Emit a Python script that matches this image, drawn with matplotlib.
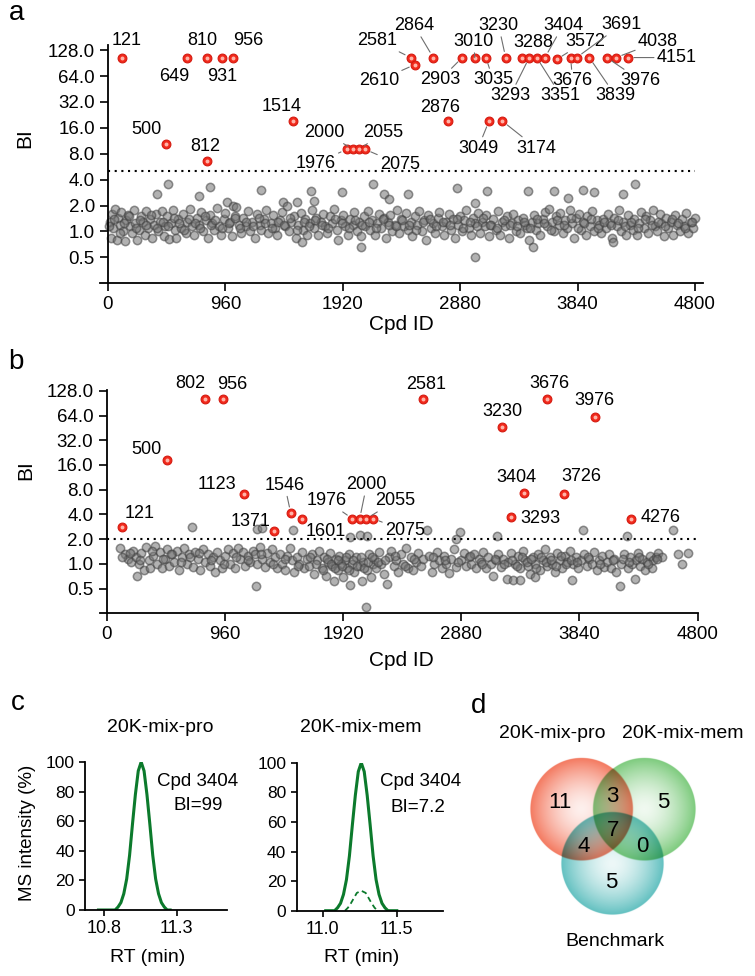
import numpy as np
import matplotlib.pyplot as plt
from matplotlib.colors import to_rgb
from matplotlib.ticker import NullLocator

plt.rcParams['font.family'] = ['Liberation Sans', 'DejaVu Sans']
plt.rcParams['axes.linewidth'] = 1.3

W, H = 755, 976

# ---------------- panel a data ----------------
a_labels = ['121', '500', '649', '810', '812', '931', '956', '1514',
            '1976', '2000', '2055', '2075',
            '2581', '2610', '2864', '2876', '2903',
            '3010', '3035', '3049', '3174',
            '3230', '3288', '3293', '3351', '3404',
            '3572', '3676', '3691', '3839', '3976', '4038', '4151']
a_pos = [117, 472, 648, 807, 807, 930, 1025, 1510,
         1952, 2006, 2055, 2102,
         2475, 2510, 2660, 2778, 2897,
         2999, 3091, 3116, 3225,
         3252, 3388, 3445, 3506, 3573,
         3669, 3783, 3832, 3936, 4078, 4154, 4250]
a_bi = [105, 10.5, 105, 105, 6.6, 105, 105, 19.2,
        9, 9, 9, 9,
        105, 87, 105, 19.2, 105,
        105, 105, 19.2, 19.2,
        105, 105, 105, 105, 105,
        100, 105, 105, 105, 105, 105, 105]
a_cut = 5.0
a_gray = [
    (15, 1.3), (25, 0.85), (35, 1.6), (45, 1.1), (60, 1.85), (70, 0.8), (85, 1.45), (95, 1.2),
    (110, 1.7), (125, 1.0), (140, 0.78), (150, 1.35), (165, 1.55), (180, 1.15), (195, 0.95),
    (210, 1.8), (225, 1.25), (240, 0.8), (255, 1.05), (270, 1.5), (285, 1.3), (300, 0.9),
    (315, 1.75), (330, 1.1), (345, 1.4), (360, 0.85), (375, 1.2), (390, 1.6), (410, 1.0),
    (425, 1.3), (440, 1.75), (455, 0.88), (470, 1.15), (485, 1.5), (500, 0.82), (515, 1.25),
    (530, 1.8), (545, 1.05), (560, 0.85), (575, 1.4), (595, 1.1), (615, 1.6), (635, 0.95),
    (650, 1.3), (670, 1.85), (690, 1.15), (705, 0.9), (725, 1.45), (745, 1.2), (760, 1.7),
    (780, 1.0), (800, 1.35), (815, 0.85), (835, 1.55), (850, 1.25), (870, 1.05), (890, 1.9),
    (905, 1.15), (925, 0.92), (945, 1.4), (960, 1.65), (971, 2.2), (980, 1.1), (1000, 1.3),
    (1015, 0.88), (1024, 2.0), (1035, 1.5), (1050, 1.95), (1070, 1.2), (1090, 0.95),
    (1105, 1.45), (1125, 1.15), (1145, 1.75), (1160, 1.0), (1180, 1.3), (1200, 0.85),
    (1220, 1.6), (1240, 1.2), (1255, 1.05), (1275, 1.4), (1295, 1.8), (1310, 0.95),
    (1330, 1.25), (1350, 1.55), (1370, 1.1), (1385, 0.9), (1405, 1.35), (1425, 1.7),
    (1431, 2.2), (1445, 1.15), (1460, 2.0), (1480, 1.0), (1500, 1.3), (1520, 1.5),
    (1535, 0.85), (1543, 2.2), (1555, 1.2), (1575, 1.65), (1595, 1.05), (1610, 1.4),
    (1630, 0.92), (1650, 1.25), (1665, 1.8), (1685, 1.1), (1705, 1.45), (1720, 0.9),
    (1740, 1.3), (1760, 1.6), (1775, 1.15), (1795, 0.95), (1815, 1.5), (1830, 1.25),
    (1850, 1.85), (1870, 1.05), (1885, 0.8), (1905, 1.35), (1925, 1.55), (1940, 1.15),
    (1960, 0.9), (1980, 1.4), (2000, 1.2), (2015, 1.7), (2035, 1.0), (2050, 1.3),
    (2070, 0.88), (2090, 1.5), (2105, 1.15), (2125, 1.75), (2145, 1.05), (2160, 1.35),
    (2180, 0.92), (2200, 1.25), (2215, 1.6), (2235, 1.1), (2255, 1.45), (2270, 0.85),
    (2290, 1.3), (2310, 1.55), (2325, 1.0), (2345, 1.2), (2365, 1.8), (2380, 0.95),
    (2400, 1.4), (2420, 1.15), (2435, 1.65), (2455, 1.05), (2475, 1.3), (2490, 0.88),
    (2510, 1.5), (2530, 1.2), (2545, 1.75), (2565, 1.0), (2585, 1.35), (2600, 0.8),
    (2620, 1.55), (2640, 1.1), (2655, 1.25), (2675, 0.95), (2695, 1.45), (2710, 1.7),
    (2730, 1.15), (2750, 0.9), (2765, 1.3), (2785, 1.6), (2805, 1.05), (2820, 1.4),
    (2840, 0.85), (2860, 1.2), (2875, 1.5), (2895, 1.0), (2915, 1.35), (2930, 1.8),
    (2950, 1.1), (2970, 0.92), (2985, 1.45), (3005, 1.25), (3025, 1.65), (3040, 0.95),
    (3060, 1.3), (3080, 1.15), (3095, 1.55), (3115, 0.88), (3135, 1.2), (3150, 1.4),
    (3170, 1.05), (3190, 1.75), (3205, 0.9), (3225, 1.3), (3245, 1.15), (3260, 1.5),
    (3280, 0.85), (3300, 1.25), (3315, 1.6), (3335, 1.0), (3355, 1.35), (3370, 0.95),
    (3390, 1.45), (3410, 1.2), (3425, 1.1), (3445, 0.8), (3465, 1.3), (3480, 1.55),
    (3500, 1.05), (3520, 1.25), (3535, 0.92), (3555, 1.4), (3575, 1.7), (3590, 1.15),
    (3610, 1.85), (3630, 1.3), (3645, 1.0), (3665, 1.5), (3685, 1.2), (3700, 1.65),
    (3720, 0.95), (3740, 1.35), (3755, 1.1), (3775, 1.8), (3795, 1.25), (3810, 0.85),
    (3830, 1.45), (3850, 1.6), (3865, 1.05), (3885, 1.3), (3905, 0.9), (3920, 1.5),
    (3940, 1.15), (3960, 1.75), (3975, 1.0), (3995, 1.35), (4015, 1.2), (4030, 0.95),
    (4050, 1.4), (4070, 1.1), (4085, 1.6), (4105, 1.25), (4125, 0.85), (4140, 1.45),
    (4160, 1.15), (4180, 1.8), (4195, 1.0), (4215, 1.3), (4235, 0.9), (4250, 1.55),
    (4270, 1.2), (4290, 1.05), (4305, 1.4), (4325, 0.92), (4345, 1.25), (4360, 1.7),
    (4380, 1.1), (4400, 1.5), (4415, 0.95), (4435, 1.35), (4455, 1.8), (4470, 1.15),
    (4490, 1.0), (4510, 1.6), (4525, 1.25), (4545, 0.88), (4565, 1.45), (4580, 1.1),
    (4600, 1.3), (4620, 0.92), (4635, 1.55), (4655, 1.2), (4675, 1.0), (4690, 1.4),
    (4710, 1.15), (4730, 1.65), (4745, 0.95), (4765, 1.3), (4785, 1.1), (4800, 1.45),
    # dense core
    (8, 1.15), (52, 1.4), (100, 0.95), (135, 1.25), (172, 1.5), (232, 1.1), (262, 1.35),
    (308, 1.2), (352, 1.55), (398, 1.1), (448, 1.3), (492, 1.15), (538, 1.45), (585, 1.25),
    (622, 1.05), (660, 1.4), (712, 1.25), (752, 1.1), (792, 1.5), (842, 1.2), (878, 1.35),
    (932, 1.1), (990, 1.25), (1042, 1.45), (1082, 1.1), (1132, 1.3), (1190, 1.15),
    (1232, 1.45), (1282, 1.25), (1340, 1.1), (1392, 1.3), (1438, 1.2), (1490, 1.45),
    (1545, 1.05), (1600, 1.3), (1640, 1.15), (1692, 1.35), (1748, 1.2), (1802, 1.1),
    (1858, 1.4), (1912, 1.25), (1968, 1.1), (2022, 1.35), (2080, 1.2), (2132, 1.3),
    (2190, 1.1), (2245, 1.4), (2300, 1.2), (2352, 1.15), (2408, 1.35), (2462, 1.2),
    (2520, 1.05), (2575, 1.3), (2630, 1.4), (2685, 1.15), (2740, 1.3), (2795, 1.2),
    (2850, 1.4), (2905, 1.1), (2960, 1.3), (3015, 1.15), (3070, 1.45), (3125, 1.2),
    (3180, 1.1), (3235, 1.35), (3290, 1.2), (3345, 1.15), (3400, 1.3), (3455, 1.1),
    (3510, 1.4), (3565, 1.25), (3620, 1.05), (3675, 1.35), (3730, 1.2), (3785, 1.45),
    (3840, 1.1), (3895, 1.25), (3950, 1.4), (4005, 1.1), (4060, 1.3), (4115, 1.2),
    (4170, 1.35), (4225, 1.15), (4280, 1.3), (4335, 1.1), (4390, 1.4), (4445, 1.2),
    (4500, 1.3), (4555, 1.15), (4610, 1.4), (4665, 1.25), (4720, 1.1), (4775, 1.3),
    # outliers
    (403, 2.72), (492, 3.57), (746, 2.58), (832, 3.27), (1254, 3.07), (1660, 2.94),
    (1682, 2.26), (1911, 2.84), (2168, 3.57), (2260, 2.72), (2301, 2.38), (2450, 2.72),
    (2857, 3.21), (3101, 2.94), (2999, 2.12), (3434, 2.92), (3650, 2.96), (3761, 2.47),
    (3888, 3.02), (3974, 2.89), (4215, 2.74), (4310, 3.57), (2069, 0.66), (3005, 0.51),
    (3475, 0.66), (1587, 0.755), (4126, 0.755),
]

# ---------------- panel b data ----------------
b_labels = ['121', '500', '802', '956', '1123', '1371', '1546', '1601',
            '1976', '2000', '2055', '2075', '2581', '3230', '3293', '3404',
            '3676', '3726', '3976', '4276']
b_pos = [124, 493, 799, 948, 1113, 1359, 1495, 1590,
         1996, 2055, 2110, 2163, 2570, 3214, 3282, 3390,
         3574, 3712, 3964, 4257]
b_bi = [2.85, 18.3, 101, 101, 7.1, 2.5, 4.15, 3.55,
        3.55, 3.55, 3.55, 3.55, 101, 46, 3.7, 7.2,
        101, 7.1, 61, 3.55]
b_cut = 2.0
b_gray = [
    (110, 1.55), (150, 1.3), (175, 1.15), (200, 1.05), (215, 1.45), (244, 0.72), (240, 1.2),
    (260, 1.0), (280, 1.35), (300, 0.85), (320, 1.6), (340, 1.1), (355, 0.9), (375, 1.25),
    (395, 1.65), (410, 1.0), (430, 1.4), (450, 0.88), (470, 1.15), (490, 1.5), (510, 0.95),
    (530, 1.3), (550, 1.05), (570, 1.45), (590, 0.85), (610, 1.2), (630, 1.55), (650, 1.0),
    (690, 2.8), (670, 1.3), (700, 0.92), (720, 1.4), (740, 1.15), (760, 0.85), (780, 1.5),
    (800, 1.05), (820, 1.3), (840, 0.95), (860, 1.2), (880, 0.8), (900, 1.4), (920, 1.1),
    (940, 0.88), (960, 1.25), (985, 1.5), (1005, 1.0), (1025, 1.35), (1045, 0.9),
    (1065, 1.55), (1085, 1.15), (1105, 1.4), (1125, 0.95), (1145, 1.25), (1165, 1.05),
    (1185, 1.45), (1213, 0.54), (1218, 2.67), (1259, 2.7), (1205, 1.3), (1225, 1.0),
    (1245, 1.6), (1265, 1.15), (1285, 0.92), (1305, 1.35), (1325, 1.05), (1345, 1.5),
    (1365, 1.2), (1385, 0.9), (1405, 1.3), (1425, 1.0), (1445, 0.85), (1465, 1.25),
    (1485, 1.55), (1505, 1.1), (1516, 2.55), (1525, 0.8), (1545, 1.2), (1565, 1.0),
    (1585, 1.4), (1605, 0.88), (1625, 1.15), (1645, 0.95), (1665, 1.3), (1685, 0.75),
    (1705, 1.1), (1725, 1.45), (1745, 0.9), (1765, 1.2), (1785, 0.72), (1800, 1.05),
    (1815, 1.35), (1830, 0.95), (1845, 0.62), (1860, 1.15), (1875, 0.85), (1890, 1.25),
    (1905, 1.0), (1920, 0.7), (1935, 1.1), (1950, 0.9), (1965, 1.3), (1980, 0.55),
    (1976, 2.1), (1995, 1.0), (2010, 0.8), (2025, 1.2), (2058, 2.25), (2055, 0.95),
    (2070, 0.62), (2085, 1.05), (2112, 2.2), (2109, 0.3), (2115, 0.85), (2130, 1.3),
    (2145, 0.7), (2160, 1.0), (2175, 1.15), (2190, 0.9), (2210, 1.4), (2230, 1.0),
    (2250, 0.75), (2274, 0.57), (2290, 1.2), (2310, 1.45), (2330, 0.95), (2350, 1.1),
    (2370, 0.8), (2390, 1.3), (2410, 1.0), (2430, 1.55), (2450, 0.9), (2470, 1.2),
    (2490, 0.85), (2510, 1.05), (2530, 1.35), (2550, 0.95), (2570, 1.15), (2600, 2.55),
    (2620, 1.25), (2640, 0.8), (2660, 1.0), (2680, 1.4), (2700, 1.1), (2720, 0.9),
    (2740, 1.25), (2760, 1.0), (2780, 0.78), (2800, 1.15), (2820, 1.5), (2840, 0.92),
    (2870, 2.43), (2838, 2.0), (2880, 1.1), (2900, 1.35), (2920, 0.95), (2940, 1.2),
    (2960, 1.0), (2980, 1.3), (3000, 0.88), (3020, 1.15), (3040, 1.05), (3060, 1.4),
    (3080, 0.9), (3100, 1.2), (3120, 1.0), (3140, 0.72), (3168, 2.2), (3160, 1.1),
    (3180, 1.3), (3200, 0.92), (3220, 1.15), (3249, 0.66), (3260, 1.05), (3280, 1.35),
    (3303, 0.63), (3320, 1.0), (3340, 1.25), (3357, 0.63), (3360, 0.9), (3380, 1.45),
    (3400, 1.1), (3420, 0.95), (3440, 0.75), (3460, 1.2), (3479, 0.69), (3480, 1.0),
    (3500, 1.3), (3520, 0.85), (3540, 1.1), (3560, 1.5), (3580, 0.95), (3600, 1.2),
    (3620, 1.0), (3640, 0.8), (3660, 1.35), (3680, 1.1), (3700, 0.9), (3720, 1.25),
    (3740, 1.05), (3760, 1.45), (3777, 0.63), (3790, 1.0), (3810, 1.2), (3830, 0.88),
    (3850, 1.1), (3872, 2.55), (3880, 1.3), (3900, 0.95), (3920, 1.15), (3940, 1.0),
    (3960, 1.4), (3980, 0.85), (4000, 1.1), (4020, 1.25), (4040, 0.92), (4060, 1.05),
    (4080, 1.3), (4100, 0.9), (4120, 1.15), (4140, 0.8), (4170, 0.54), (4180, 1.0),
    (4200, 1.3), (4224, 2.2), (4235, 0.9), (4250, 1.2), (4265, 1.0), (4291, 0.66),
    (4300, 1.1), (4315, 1.35), (4330, 0.95), (4350, 1.15), (4370, 0.85), (4390, 1.05),
    (4410, 1.25), (4430, 0.9), (4441, 1.1), (4460, 1.2), (4480, 1.35), (4509, 1.2),
    (4603, 2.6), (4643, 1.3), (4671, 1.0), (4725, 1.35),
    # dense core
    (125, 1.2), (190, 1.35), (270, 1.1), (365, 1.45), (460, 1.15), (520, 1.3), (600, 1.05),
    (680, 1.2), (750, 1.35), (850, 1.1), (950, 1.0), (1050, 1.2), (1150, 1.1), (1250, 1.3),
    (1350, 1.0), (1450, 1.15), (1550, 0.95), (1650, 1.2), (1700, 1.0), (1755, 0.85),
    (1790, 1.15), (1822, 1.0), (1852, 0.9), (1882, 1.1), (1912, 0.95), (1942, 1.2),
    (1972, 0.85), (2002, 1.1), (2032, 0.95), (2062, 1.2), (2092, 0.9), (2122, 1.05),
    (2152, 1.2), (2200, 1.05), (2260, 1.1), (2340, 1.25), (2420, 0.95), (2500, 1.15),
    (2650, 1.2), (2750, 1.1), (2850, 1.05), (2950, 1.25), (3050, 1.0), (3150, 1.15),
    (3230, 1.0), (3290, 1.1), (3330, 0.95), (3370, 1.2), (3410, 1.05), (3450, 1.15),
    (3490, 0.9), (3530, 1.2), (3570, 1.05), (3610, 1.1), (3650, 0.95), (3690, 1.25),
    (3730, 1.0), (3770, 1.1), (3820, 1.05), (3910, 1.2), (4010, 1.0), (4110, 1.1),
    (4190, 1.15), (4245, 1.05), (4320, 1.2), (4400, 1.0), (4470, 1.15),
]

# ---------------- panel c data ----------------
rt_pro = [10.76, 10.875, 10.895, 10.915, 10.935, 10.955, 10.975, 10.995, 11.015, 11.035,
          11.055, 11.075, 11.095, 11.115, 11.135, 11.155, 11.175, 11.195, 11.215, 11.235, 11.255]
int_pro = [0, 0, 2, 5, 11, 21, 37, 58, 78, 94, 100, 94, 78, 58, 37, 21, 11, 5, 2, 0, 0]
rt_mem = [11.02, 11.08, 11.10, 11.12, 11.14, 11.16, 11.18, 11.20, 11.22, 11.24,
          11.26, 11.28, 11.30, 11.32, 11.34, 11.36, 11.38, 11.40, 11.42, 11.44, 11.50]
int_mem = [0, 0, 2, 5, 11, 21, 37, 58, 78, 94, 100, 94, 78, 58, 37, 21, 11, 5, 2, 0, 0]
rt_bench = [11.15, 11.17, 11.19, 11.21, 11.23, 11.26, 11.29, 11.31, 11.33, 11.35, 11.37]
int_bench = [0, 2, 5, 8.5, 12, 13.5, 12, 8.5, 5, 2, 0]

# ---------------- panel d data ----------------
venn_sets = ['20K-mix-pro', '20K-mix-mem', 'Benchmark']
venn_counts = ['11', '3', '5', '7', '4', '0', '5']

# ---------------- style: label offsets (px, y down) ----------------
a_off = [(4, -17), (-19, -14), (-13, 19), (-4, -17), (-1, -14), (1, 19), (15, -17), (-11, -15),
         (-31, 14), (-29, -17), (24, -17), (35, 15),
         (-34, -17), (-36, 16), (-19, -32), (-8, -14), (-22, 22),
         (-1, -16), (7, 22), (-11, 27), (34, 27),
         (-7, -32), (11, -15), (-19, 38), (24, 38), (18, -32),
         (29, -18), (2, 23), (45, -33), (26, 38), (34, 23), (42, -16), (49, 0)]
a_lead = [0, 0, 0, 0, 0, 0, 0, 0, 1, 1, 1, 1, 1, 1, 1, 0, 1,
          1, 1, 1, 1, 1, 0, 1, 1, 1, 1, 1, 1, 1, 1, 1, 1]
b_off = [(18, -13), (-21, -11), (-15, -16), (9, -15), (-27, -9), (-23, -10), (-6, -28), (23, 13),
         (-26, -18), (7, -34), (29, -18), (32, 12), (3, -15), (0, -16), (30, 1), (-8, -16),
         (3, -16), (18, -17), (0, -17), (30, -1)]
b_lead = [0, 0, 0, 0, 0, 0, 1, 0, 1, 1, 1, 1, 0, 0, 0, 0, 0, 0, 0, 0]

fig = plt.figure(figsize=(W / 100, H / 100), dpi=100)


def add_ax(l, t, r, b):
    return fig.add_axes([l / W, 1 - b / H, (r - l) / W, (b - t) / H])


def ftext(x, y, s, **kw):
    kw.setdefault('ha', 'center')
    kw.setdefault('va', 'center')
    fig.text(x / W, 1 - y / H, s, **kw)


def bi_panel(ax, gray, pos, bi, labels, offs, leads, cut, xlim, ylim):
    gx, gy = zip(*gray)
    ax.scatter(gx, gy, s=36, facecolor=(0.45, 0.45, 0.45, 0.55),
               edgecolor=(0.25, 0.25, 0.25, 0.55), lw=1.1, zorder=2)
    ax.scatter(pos, bi, s=40, color='#f22a1c', edgecolor='#d41a10', lw=0.8, zorder=4)
    ax.scatter(pos, bi, s=8, color='#ffb4a8', lw=0, zorder=5)
    ax.plot([0, 4800], [cut, cut], color='k', lw=1.5, ls=(0, (1, 2.2)), zorder=3)
    for lab, x, y, (dx, dy), ld in zip(labels, pos, bi, offs, leads):
        kw = {}
        if ld:
            kw['arrowprops'] = dict(arrowstyle='-', color='#6e6e6e', lw=0.8,
                                    shrinkA=0, shrinkB=4.5)
        ax.annotate(lab, (x, y), xytext=(dx, -dy), textcoords='offset pixels',
                    ha='center', va='center', fontsize=13, zorder=6,
                    annotation_clip=False, **kw)
    ax.set_yscale('log', base=2)
    ax.set_xlim(*xlim)
    ax.set_ylim(*ylim)
    yt = [0.5, 1, 2, 4, 8, 16, 32, 64, 128]
    ax.set_yticks(yt)
    ax.set_yticklabels([f'{v:.1f}' for v in yt])
    ax.yaxis.set_minor_locator(NullLocator())
    ax.set_xticks([0, 960, 1920, 2880, 3840, 4800])
    ax.spines['left'].set_position(('data', 0))
    ax.spines['top'].set_visible(False)
    ax.spines['right'].set_visible(False)
    ax.tick_params(direction='out', length=5.5, width=1.2, labelsize=13.5, pad=4)


# panel a
axa = add_ax(100, 45.5, 703.3, 283.3)
bi_panel(axa, a_gray, a_pos, a_bi, a_labels, a_off, a_lead, a_cut, (-65, 4868), (0.25, 145))
ftext(401, 325, 'Cpd ID', fontsize=15)
ftext(25, 138, 'BI', fontsize=15, rotation=90)
ftext(17, 13, 'a', fontsize=20)

# panel b
axb = add_ax(100, 389.7, 698.3, 613.3)
bi_panel(axb, b_gray, b_pos, b_bi, b_labels, b_off, b_lead, b_cut, (-54, 4805), (0.25, 132))
ftext(401, 660, 'Cpd ID', fontsize=15)
ftext(26, 470, 'BI', fontsize=15, rotation=90)
ftext(16, 362, 'b', fontsize=20)

# panel c
green = '#0c7a2c'
axl = add_ax(85, 762, 227, 910)
axl.plot(rt_pro, int_pro, color=green, lw=2.2, solid_joinstyle='round')
axl.set_xlim(10.667, 11.648)
axl.set_xticks([10.8, 11.3])
axr = add_ax(296.7, 762.7, 442.7, 910.7)
axr.plot(rt_mem, int_mem, color=green, lw=2.2, solid_joinstyle='round')
axr.plot(rt_bench, int_bench, color=green, lw=1.3, ls=(0, (3, 2)))
axr.set_xlim(10.824, 11.81)
axr.set_xticks([11.0, 11.5])
for ax in (axl, axr):
    ax.set_ylim(0, 100)
    ax.set_yticks([0, 20, 40, 60, 80, 100])
    ax.spines['top'].set_visible(False)
    ax.spines['right'].set_visible(False)
    ax.tick_params(direction='out', length=4.5, width=1.2, labelsize=12.5, pad=3)
    for lab in ax.get_xticklabels():
        lab.set_fontsize(13)
ftext(160, 728, '20K-mix-pro', fontsize=14)
ftext(361, 728, '20K-mix-mem', fontsize=14)
ftext(198, 782, 'Cpd 3404', fontsize=13.5)
ftext(198, 806, 'BI=99', fontsize=13.5)
ftext(421, 782, 'Cpd 3404', fontsize=13.5)
ftext(418, 807, 'BI=7.2', fontsize=13.5)
ftext(148, 958, 'RT (min)', fontsize=14)
ftext(362, 958, 'RT (min)', fontsize=14)
ftext(28, 833, 'MS intensity (%)', fontsize=13.5, rotation=90)
ftext(18, 703, 'c', fontsize=20)

# panel d: Venn diagram in pixel-like coordinates
axd = add_ax(500, 720, 735, 955)
venn_centers = [(581.5, 809), (644.5, 809), (612.5, 863.5)]
venn_colors = ['#f2674a', '#6cc46c', '#4db8b8']
venn_r = 52
gx_ = np.linspace(500, 735, 706)
gy_ = np.linspace(720, 955, 706)
X, Y = np.meshgrid(gx_, gy_)
rgb = np.ones(X.shape + (3,))
inside = np.zeros(X.shape)
for (cx, cy), col in zip(venn_centers, venn_colors):
    d = np.hypot(X - cx, Y - cy) / venn_r
    edge = np.clip((1 - d) * venn_r, 0, 1)
    a = np.clip(0.1 + 0.8 * d ** 1.6, 0, 0.92) * edge
    c = np.array(to_rgb(col))
    rgb *= 1 - a[..., None] * (1 - c)
    inside = np.maximum(inside, edge)
axd.imshow(np.dstack([rgb, inside]), extent=(500, 735, 955, 720), origin='upper',
           interpolation='bilinear')
axd.set_xlim(500, 735)
axd.set_ylim(955, 720)
axd.axis('off')
count_xy = [(560, 802), (612, 796), (663, 802), (613, 830), (584, 847), (642, 847), (611, 883)]
for (x, y), s in zip(count_xy, venn_counts):
    axd.text(x, y, s, ha='center', va='center', fontsize=16)
for (x, y), s in zip([(552, 733), (683, 733), (615, 942)], venn_sets):
    axd.text(x, y, s, ha='center', va='center', fontsize=14)
ftext(479, 706, 'd', fontsize=20)

fig.savefig('out.png', dpi=100)
